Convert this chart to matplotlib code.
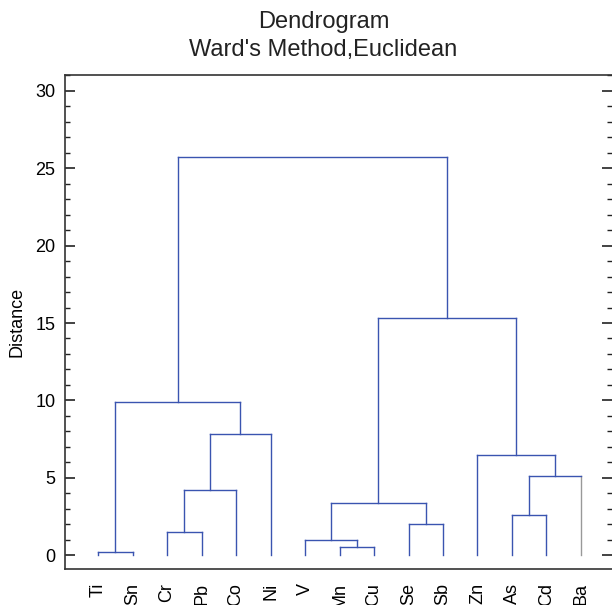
import matplotlib
matplotlib.use('Agg')
import matplotlib.pyplot as plt
from matplotlib.ticker import MultipleLocator

# leaf labels in dendrogram order
labels = ['Ti', 'Sn', 'Cr', 'Pb', 'Co', 'Ni', 'V', 'Mn', 'Cu', 'Se', 'Sb',
          'Zn', 'As', 'Cd', 'Ba']

# merges: (left child, right child, distance); children < 15 are leaves,
# others refer to earlier clusters (15 + merge index)
merge_left = [0, 2, 16, 17, 15, 7, 6, 9, 21, 12, 24, 11, 23, 19]
merge_right = [1, 3, 4, 5, 18, 8, 20, 10, 22, 13, 14, 25, 26, 27]
merge_height = [0.2, 1.5, 4.2, 7.85, 9.9, 0.55, 0.95, 2.0, 3.35, 2.6, 5.1,
                6.45, 15.3, 25.7]

line_color = '#3a54b0'
gray_leaves = ['Ba']

plt.rcParams['font.family'] = ['Liberation Sans', 'DejaVu Sans']

fig = plt.figure(figsize=(6.12, 6.05), dpi=100)
ax = fig.add_axes([65 / 612, 1 - 569 / 605, 547 / 612, 494 / 605])

n = len(labels)
xpos = {i: float(i) for i in range(n)}
ypos = {i: 0.0 for i in range(n)}

for k, (a, b, h) in enumerate(zip(merge_left, merge_right, merge_height)):
    node = n + k
    for child in (a, b):
        c = line_color
        if child < n and labels[child] in gray_leaves:
            c = '#999999'
        ax.plot([xpos[child], xpos[child]], [ypos[child], h], color=c, lw=1.0)
    ax.plot([xpos[a], xpos[b]], [h, h], color=line_color, lw=1.0)
    xpos[node] = (xpos[a] + xpos[b]) / 2
    ypos[node] = h

ax.set_xlim(-0.96, 14.9)
ax.set_ylim(-0.9, 31.03)

ax.set_xticks(range(n))
ax.set_xticklabels(labels, rotation=90, fontsize=13)
ax.tick_params(axis='x', length=0, pad=10)

ax.yaxis.set_major_locator(MultipleLocator(5))
ax.yaxis.set_minor_locator(MultipleLocator(1))
ax.tick_params(axis='y', which='major', direction='in', length=7, width=1.2,
               labelsize=13, pad=7, right=True, color='#222222')
ax.tick_params(axis='y', which='minor', direction='in', length=3.5, width=1.0,
               right=True, color='#222222')
ax.spines['right'].set_visible(False)
for s in ['left', 'top', 'bottom']:
    ax.spines[s].set_linewidth(1.2)
    ax.spines[s].set_color('#333333')

ax.set_ylabel('Distance', fontsize=13, labelpad=7)

fig.text(323.5 / 612, 1 - 22 / 605, 'Dendrogram', ha='center', va='center',
         fontsize=17, color='#222222')
fig.text(323.5 / 612, 1 - 50 / 605, "Ward's Method,Euclidean", ha='center',
         va='center', fontsize=17, color='#222222')

plt.savefig('out.png', dpi=100)
